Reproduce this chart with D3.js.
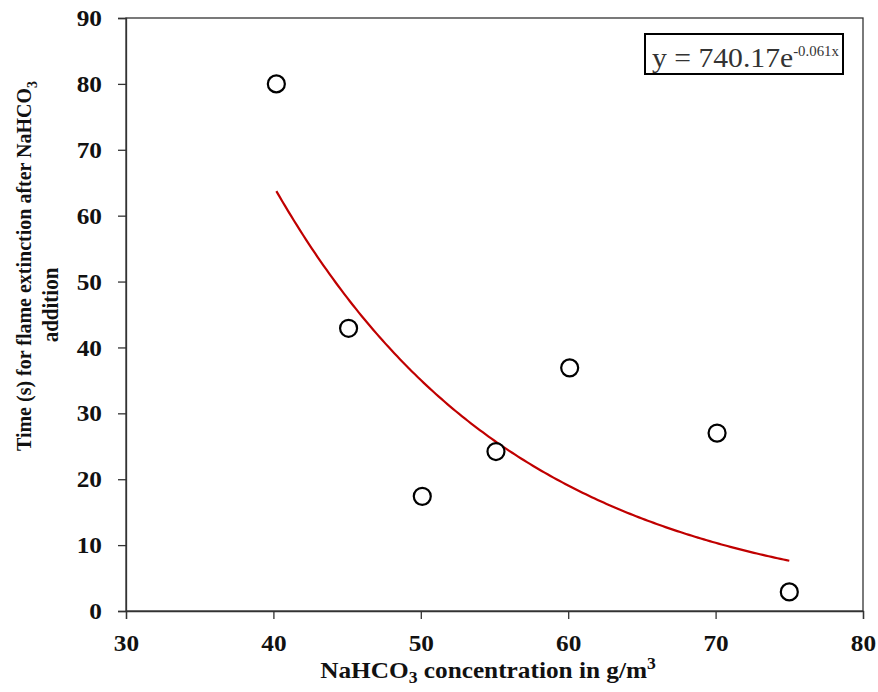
<!DOCTYPE html>
<html>
<head>
<meta charset="utf-8">
<script src="https://cdn.jsdelivr.net/npm/d3@7"></script>
<style>
  body { margin: 0; background: #fff; }
  svg text { font-family: "Liberation Serif", "Times New Roman", serif; }
</style>
</head>
<body>
<div id="chart"></div>
<script>
// measured points (NaHCO3 concentration, extinction time)
var concentration = [40.2, 45.1, 50.1, 55.1, 60.1, 70.1, 75.0];
var extinctionTime = [80.0, 42.9, 17.4, 24.2, 36.9, 27.0, 2.9];
var xTicks = [30, 40, 50, 60, 70, 80];
var yTicks = [0, 10, 20, 30, 40, 50, 60, 70, 80, 90];
// exponential trendline shown in the chart: y = 740.17 e^(-0.061x)
var trendA = 740.17;
var trendB = -0.061;
var trendRange = [40.2, 75.0];

// the original picture is slightly stretched horizontally
var stretch = 1.1;

function main() {
    var W = 878, H = 692;
    var margin = { top: 18, right: 15, bottom: 81, left: 126 };
    var width = W - margin.left - margin.right;
    var height = H - margin.top - margin.bottom;

    var svg = d3.select("#chart").append("svg")
        .attr("width", W)
        .attr("height", H);
    var g = svg.append("g")
        .attr("transform", "translate(" + margin.left + "," + margin.top + ")");

    var x = d3.scaleLinear().domain([30, 80]).range([0, width]);
    var y = d3.scaleLinear().domain([0, 90]).range([height, 0]);

    // frame
    g.append("rect")
        .attr("width", width).attr("height", height)
        .attr("fill", "none").attr("stroke", "#333").attr("stroke-width", 1.3);

    // axes
    var xAxis = g.append("g")
        .attr("transform", "translate(0," + height + ")")
        .call(d3.axisBottom(x).tickValues(xTicks).tickSize(8).tickPadding(16));
    var yAxis = g.append("g")
        .call(d3.axisLeft(y).tickValues(yTicks).tickSize(8).tickPadding(16));
    [xAxis, yAxis].forEach(function (a) {
        a.attr("font-family", null).attr("font-size", null);
        a.select(".domain").attr("stroke", "#333").attr("stroke-width", 1.3);
        a.selectAll(".tick line").attr("stroke", "#333").attr("stroke-width", 1.3);
        a.selectAll("text")
            .attr("font-weight", "bold")
            .attr("font-size", "23px")
            .attr("fill", "#111")
            .attr("transform", "scale(" + stretch + ",1)");
    });
    yAxis.selectAll("text").attr("x", -24 / stretch).attr("dy", "0.33em");

    // trendline
    var trendXs = d3.range(trendRange[0], trendRange[1] + 0.001, 0.2);
    g.append("path")
        .datum(trendXs)
        .attr("fill", "none")
        .attr("stroke", "#c00000")
        .attr("stroke-width", 2.2)
        .attr("d", d3.line()
            .x(function (d) { return x(d); })
            .y(function (d) { return y(trendA * Math.exp(trendB * d)); }));

    // markers
    g.selectAll("circle.pt")
        .data(concentration)
        .enter()
        .append("circle")
        .attr("class", "pt")
        .attr("cx", function (d) { return x(d); })
        .attr("cy", function (d, i) { return y(extinctionTime[i]); })
        .attr("r", 8.5)
        .attr("fill", "#fff")
        .attr("stroke", "#000")
        .attr("stroke-width", 2.2);

    // equation box
    g.append("rect")
        .attr("x", 519).attr("y", 16)
        .attr("width", 198).attr("height", 40)
        .attr("fill", "#fff").attr("stroke", "#000").attr("stroke-width", 2);
    var eq = g.append("text")
        .attr("transform", "translate(526,49) scale(1.06,1)")
        .attr("font-size", "28px")
        .attr("fill", "#333");
    eq.append("tspan").text("y = 740.17e");
    eq.append("tspan").attr("font-size", "14px").attr("dy", "-11").text("-0.061x");

    // x axis title
    var xt = svg.append("text")
        .attr("transform", "translate(488,678) scale(" + stretch + ",1)")
        .attr("text-anchor", "middle")
        .attr("font-weight", "bold")
        .attr("font-size", "23px")
        .attr("fill", "#111");
    xt.append("tspan").text("NaHCO");
    xt.append("tspan").attr("font-size", "16px").attr("dy", "5").text("3");
    xt.append("tspan").attr("dy", "-5").text(" concentration in  g/m");
    xt.append("tspan").attr("font-size", "16px").attr("dy", "-9").text("3");

    // y axis title (two lines)
    var yt1 = svg.append("text")
        .attr("transform", "translate(31,266) scale(" + stretch + ",1) rotate(-90)")
        .attr("text-anchor", "middle")
        .attr("font-weight", "bold")
        .attr("font-size", "20px")
        .attr("fill", "#111");
    yt1.append("tspan").text("Time (s) for flame extinction  after NaHCO");
    yt1.append("tspan").attr("font-size", "14px").attr("dy", "5").text("3");
    svg.append("text")
        .attr("transform", "translate(58,305) scale(" + stretch + ",1) rotate(-90)")
        .attr("text-anchor", "middle")
        .attr("font-weight", "bold")
        .attr("font-size", "21px")
        .attr("fill", "#111")
        .text("addition");
}
window.addEventListener('load', main);
</script>
</body>
</html>
